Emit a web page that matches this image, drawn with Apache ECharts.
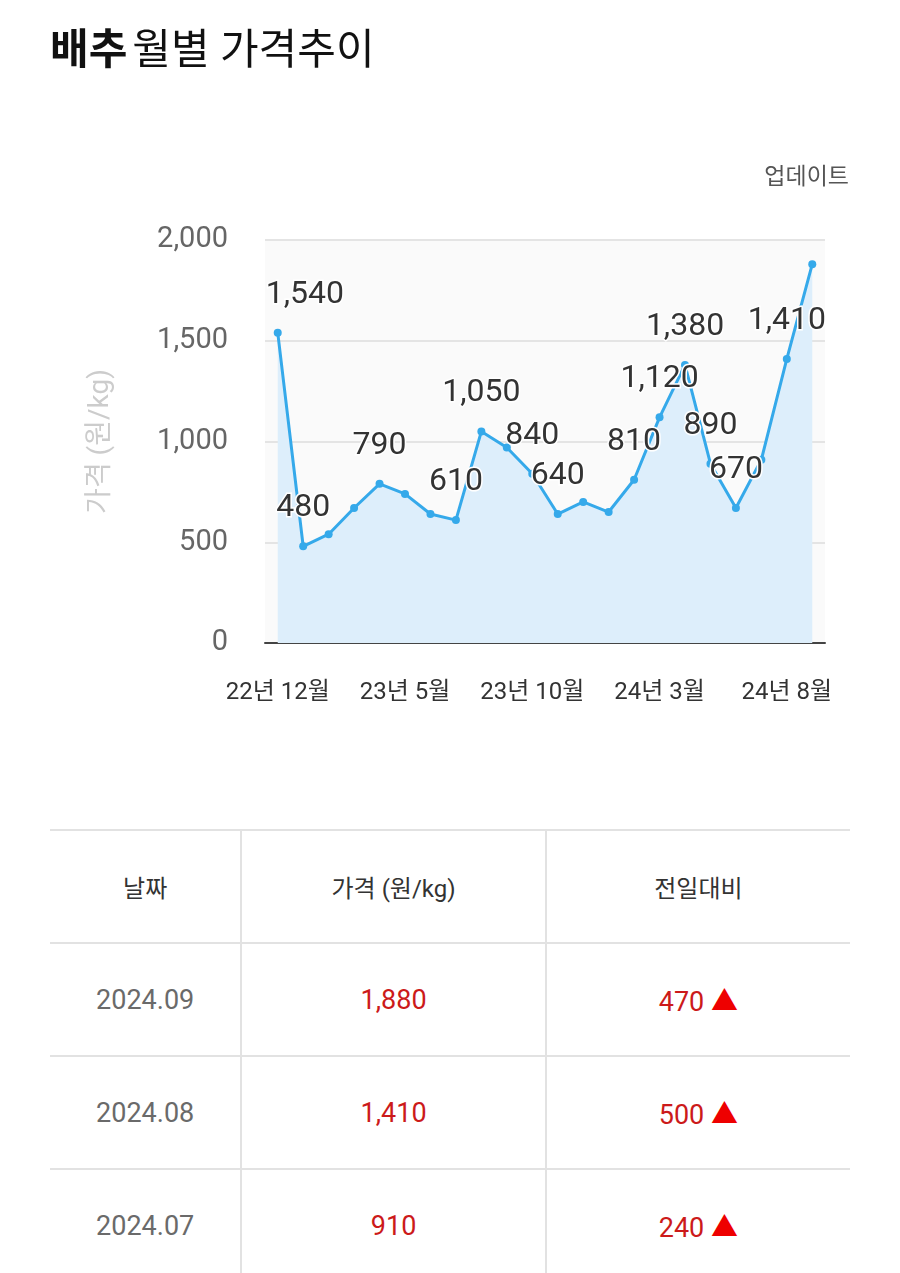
<!DOCTYPE html>
<html>
<head>
<meta charset="utf-8">
<script src="https://cdn.jsdelivr.net/npm/echarts@6/dist/echarts.min.js"></script>
<style>
  html, body { margin: 0; padding: 0; background: #fff; }
  #chart { position: absolute; left: 0; top: 0; width: 900px; height: 760px; }
  #tbl { position: absolute; left: 50px; top: 829px; width: 800px; border-collapse: collapse;
         font-family: Roboto, "Noto Sans CJK KR", sans-serif; font-size: 27px; }
  #tbl td { border-top: 2px solid #e2e2e2; border-bottom: 2px solid #e2e2e2; text-align: center; height: 111px; padding: 0; }
  #tbl td + td { border-left: 2px solid #e2e2e2; }
  #tbl .h { color: #333; font-size: 24px; }
  #tbl .d { color: #6a6a6a; }
  #tbl .r { color: #cc1a1a; }
  #tbl .tri { color: #ee0000; }
  #tbl tr:last-child td { border-bottom: none; }
</style>
</head>
<body>
<div id="chart"></div>
<table id="tbl"></table>
<script>
// ---- data ----
const months = ["22년 12월","23년 1월","23년 2월","23년 3월","23년 4월","23년 5월","23년 6월","23년 7월","23년 8월","23년 9월","23년 10월","23년 11월","23년 12월","24년 1월","24년 2월","24년 3월","24년 4월","24년 5월","24년 6월","24년 7월","24년 8월","24년 9월"];
const prices = [1540, 480, 540, 670, 790, 740, 640, 610, 1050, 970, 840, 640, 700, 650, 810, 1120, 1380, 890, 670, 910, 1410, 1880];
const labelShown = [1,1,0,0,1,0,0,1,1,0,1,1,0,0,1,1,1,1,1,0,1,0];
const yTicks = { min: 0, max: 2000, interval: 500 };

const tableHeader = ["날짜", "가격 (원/kg)", "전일대비"];
const tableDates = ["2024.09", "2024.08", "2024.07"];
const tablePrices = [1880, 1410, 910];
const tableChanges = [470, 500, 240];

const FONT = 'Roboto, "Noto Sans CJK KR", sans-serif';
const fmt = v => v.toLocaleString('en-US');

const chart = echarts.init(document.getElementById('chart'), null, { renderer: 'canvas' });
chart.setOption({
  backgroundColor: '#fff',
  animation: false,
  title: {
    left: 45, top: 27,
    text: '{b|배추} {n|월별 가격추이}',
    textStyle: {
      rich: {
        b: { fontSize: 42, fontWeight: 'bold', color: '#111', fontFamily: FONT },
        n: { fontSize: 42, fontWeight: 'normal', color: '#111', fontFamily: FONT }
      }
    }
  },
  graphic: [{
    type: 'text', right: 51, top: 167,
    style: { text: '업데이트', fontSize: 23, fill: '#555', fontFamily: FONT }
  }],
  grid: {
    left: 265, right: 75, top: 240, bottom: 117,
    show: true, backgroundColor: '#fafafa', borderWidth: 0
  },
  xAxis: {
    type: 'category',
    data: months,
    boundaryGap: true,
    axisLine: { lineStyle: { color: '#444', width: 2 } },
    axisTick: { show: false },
    axisLabel: { interval: 4, color: '#333', fontSize: 24, margin: 38, fontFamily: FONT }
  },
  yAxis: {
    type: 'value',
    min: yTicks.min, max: yTicks.max, interval: yTicks.interval,
    name: '가격 (원/kg)',
    nameLocation: 'middle',
    nameGap: 150,
    nameTextStyle: { color: '#cccccc', fontSize: 28, fontFamily: FONT },
    axisLine: { show: false },
    axisTick: { show: false },
    axisLabel: { color: '#666', fontSize: 29, margin: 37, fontFamily: FONT, formatter: v => fmt(v) },
    splitLine: { lineStyle: { color: '#e4e4e4', width: 2 } }
  },
  series: [{
    type: 'line',
    data: prices.map((v, i) => {
      const item = { value: v, label: { show: !!labelShown[i] } };
      if (i === 0) { item.label.align = 'left'; item.label.offset = [-12, 0]; }
      return item;
    }),
    symbol: 'circle',
    symbolSize: 8,
    lineStyle: { color: '#35a9ea', width: 3 },
    itemStyle: { color: '#35a9ea' },
    areaStyle: { color: '#ddeefb', opacity: 1 },
    label: {
      position: 'top',
      distance: 18,
      fontSize: 32,
      color: '#333',
      fontFamily: FONT,
      textBorderColor: '#fff',
      textBorderWidth: 3,
      formatter: p => fmt(p.value)
    },
    z: 3
  }]
});

// ---- table ----
const tbl = document.getElementById('tbl');
let html = '<tr>' + tableHeader.map((h, i) =>
  `<td class="h" style="width:${[191, 304, 305][i]}px">${h}</td>`).join('') + '</tr>';
for (let i = 0; i < tableDates.length; i++) {
  html += `<tr><td class="d">${tableDates[i]}</td><td class="r">${fmt(tablePrices[i])}</td>` +
          `<td class="r">${fmt(tableChanges[i])} <span class="tri">▲</span></td></tr>`;
}
tbl.innerHTML = html;
</script>
</body>
</html>
